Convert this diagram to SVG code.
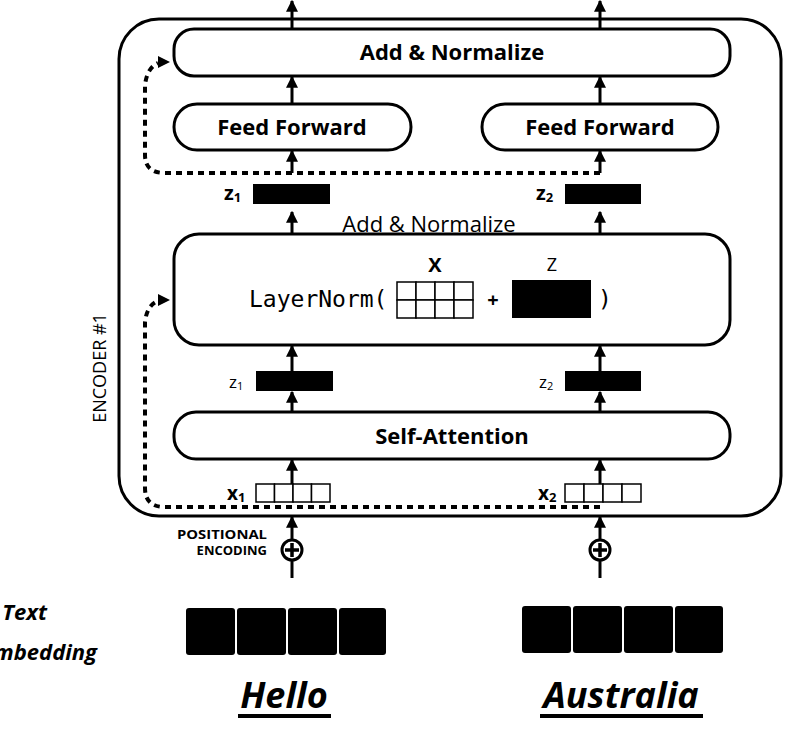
<svg xmlns="http://www.w3.org/2000/svg" width="798" height="740" viewBox="0 0 798 740">
<defs>
<style>
.box{fill:#fff;stroke:#000;stroke-width:3}
.b{font-family:"Open Sans","Liberation Sans",sans-serif;font-weight:bold;fill:#000}
.r{font-family:"Open Sans","Liberation Sans",sans-serif;fill:#000}
.m{font-family:"DejaVu Sans Mono","Liberation Mono",monospace;fill:#000}
.bi{font-family:"Open Sans","Liberation Sans",sans-serif;font-weight:bold;font-style:italic;fill:#000}
.arr{stroke:#000;stroke-width:3;fill:none;marker-end:url(#ah)}
.dash{stroke:#000;stroke-width:4;fill:none;stroke-dasharray:6 5}
.blk{fill:#000}
.cell{fill:#fff;stroke:#000;stroke-width:1.5}
</style>
<marker id="ah" viewBox="0 0 10 10" refX="9" refY="5" markerWidth="4" markerHeight="4" orient="auto" markerUnits="strokeWidth">
<path d="M0,0 L10,5 L0,10 z" fill="#000"/>
</marker>
</defs>
<rect width="798" height="740" fill="#fff"/>

<g id="encoder">
<rect class="box" x="119" y="19" width="662" height="497" rx="40"/>
<text class="r" font-size="18" transform="translate(106,368) rotate(-90)" text-anchor="middle">ENCODER #1</text>
</g>

<g id="connectors">
<line class="arr" x1="292" y1="29" x2="292" y2="1"/>
<line class="arr" x1="600" y1="29" x2="600" y2="1"/>
<line class="arr" x1="292" y1="104" x2="292" y2="77"/>
<line class="arr" x1="600" y1="104" x2="600" y2="77"/>
<line class="arr" x1="292" y1="173" x2="292" y2="151"/>
<line class="arr" x1="600" y1="173" x2="600" y2="151"/>
<line class="arr" x1="292" y1="234" x2="292" y2="212"/>
<line class="arr" x1="600" y1="234" x2="600" y2="212"/>
<line class="arr" x1="292" y1="371" x2="292" y2="346"/>
<line class="arr" x1="600" y1="371" x2="600" y2="346"/>
<line class="arr" x1="292" y1="412" x2="292" y2="392"/>
<line class="arr" x1="600" y1="412" x2="600" y2="392"/>
<line class="arr" x1="292" y1="484" x2="292" y2="460"/>
<line class="arr" x1="600" y1="484" x2="600" y2="460"/>
<line class="arr" x1="292" y1="540" x2="292" y2="517"/>
<line class="arr" x1="600" y1="540" x2="600" y2="517"/>
<line stroke="#000" stroke-width="3" x1="292" y1="560" x2="292" y2="578"/>
<line stroke="#000" stroke-width="3" x1="600" y1="560" x2="600" y2="578"/>
<path class="dash" d="M600,173 L165,173 Q145,173 145,155 L145,85 Q147,68 158,63"/>
<path d="M158,56 L170,62 L158,68 z" fill="#000"/>
<path class="dash" d="M600,507 L165,507 Q145,507 145,488 L145,322 Q147,305 158,301"/>
<path d="M158,294 L170,300 L158,306 z" fill="#000"/>
</g>

<g id="addnorm2">
<rect class="box" x="174" y="29" width="556" height="47" rx="20"/>
<text class="b" font-size="22" x="452" y="60" text-anchor="middle">Add &amp; Normalize</text>
</g>

<g id="ff1">
<rect class="box" x="174" y="104" width="237" height="46" rx="23"/>
<text class="b" font-size="22" x="292" y="135" text-anchor="middle">Feed Forward</text>
</g>
<g id="ff2">
<rect class="box" x="482" y="104" width="236" height="46" rx="23"/>
<text class="b" font-size="22" x="600" y="135" text-anchor="middle">Feed Forward</text>
</g>

<g id="z1top">
<text class="b" font-size="20" x="224" y="200">z<tspan font-size="13" dy="2">1</tspan></text>
<rect class="blk" x="253" y="184" width="77" height="20"/>
</g>
<g id="z2top">
<text class="b" font-size="20" x="536" y="200">z<tspan font-size="13" dy="2">2</tspan></text>
<rect class="blk" x="565" y="184" width="76" height="20"/>
</g>

<g id="addnorm1">
<text class="r" font-size="22" x="429" y="232" text-anchor="middle">Add &amp; Normalize</text>
<rect class="box" x="174" y="234" width="556" height="111" rx="25"/>
<text class="m" font-size="23" x="249" y="307">LayerNorm(</text>
<text class="b" font-size="20" x="435" y="272" text-anchor="middle">X</text>
<text class="r" font-size="18" x="552" y="271" text-anchor="middle">Z</text>
<rect class="cell" x="397" y="282" width="19" height="18"/>
<rect class="cell" x="416" y="282" width="19" height="18"/>
<rect class="cell" x="435" y="282" width="19" height="18"/>
<rect class="cell" x="454" y="282" width="19" height="18"/>
<rect class="cell" x="397" y="300" width="19" height="18"/>
<rect class="cell" x="416" y="300" width="19" height="18"/>
<rect class="cell" x="435" y="300" width="19" height="18"/>
<rect class="cell" x="454" y="300" width="19" height="18"/>
<text class="b" font-size="20" x="493" y="307" text-anchor="middle">+</text>
<rect class="blk" x="512" y="280" width="79" height="38"/>
<text class="m" font-size="23" x="605" y="307" text-anchor="middle">)</text>
</g>

<g id="z1mid">
<text class="r" font-size="17" x="229" y="388">z<tspan font-size="11" dy="2">1</tspan></text>
<rect class="blk" x="256" y="371" width="77" height="20"/>
</g>
<g id="z2mid">
<text class="r" font-size="17" x="539" y="388">z<tspan font-size="11" dy="2">2</tspan></text>
<rect class="blk" x="565" y="371" width="76" height="20"/>
</g>

<g id="selfattn">
<rect class="box" x="174" y="412" width="556" height="47" rx="22"/>
<text class="b" font-size="22" x="452" y="444" text-anchor="middle">Self-Attention</text>
</g>

<g id="x1">
<text class="b" font-size="19" x="227" y="500">x<tspan font-size="13" dy="2">1</tspan></text>
<rect class="cell" x="256" y="484" width="18.5" height="18"/>
<rect class="cell" x="274.5" y="484" width="18.5" height="18"/>
<rect class="cell" x="293" y="484" width="18.5" height="18"/>
<rect class="cell" x="311.5" y="484" width="18.5" height="18"/>
</g>
<g id="x2">
<text class="b" font-size="19" x="538" y="500">x<tspan font-size="13" dy="2">2</tspan></text>
<rect class="cell" x="565" y="484" width="19" height="18"/>
<rect class="cell" x="584" y="484" width="19" height="18"/>
<rect class="cell" x="603" y="484" width="19" height="18"/>
<rect class="cell" x="622" y="484" width="19" height="18"/>
</g>

<g id="pe1">
<text class="b" font-size="13" x="267" y="539" textLength="90" lengthAdjust="spacingAndGlyphs" text-anchor="end">POSITIONAL</text>
<text class="b" font-size="13" x="267" y="555" text-anchor="end">ENCODING</text>
<circle cx="292" cy="550" r="10" fill="#fff" stroke="#000" stroke-width="3"/>
<path d="M292,543 V557 M285,550 H299" stroke="#000" stroke-width="3.5"/>
</g>
<g id="pe2">
<circle cx="600" cy="550" r="10" fill="#fff" stroke="#000" stroke-width="3"/>
<path d="M600,543 V557 M593,550 H607" stroke="#000" stroke-width="3.5"/>
</g>

<g id="embLabel">
<text class="bi" font-size="22" x="47" y="620" text-anchor="end">Text</text>
<text class="bi" font-size="22" x="97" y="660" text-anchor="end">Embedding</text>
</g>

<g id="emb1">
<rect class="blk" x="186" y="608" width="49" height="47" rx="3"/>
<rect class="blk" x="237" y="608" width="49" height="47" rx="3"/>
<rect class="blk" x="288" y="608" width="49" height="47" rx="3"/>
<rect class="blk" x="339" y="608" width="47" height="47" rx="3"/>
<text class="bi" font-size="36" x="284" y="708" text-anchor="middle">Hello</text>
<rect class="blk" x="238" y="714" width="93" height="4"/>
</g>
<g id="emb2">
<rect class="blk" x="522" y="606" width="49" height="47" rx="3"/>
<rect class="blk" x="573" y="606" width="49" height="47" rx="3"/>
<rect class="blk" x="624" y="606" width="49" height="47" rx="3"/>
<rect class="blk" x="675" y="606" width="48" height="47" rx="3"/>
<text class="bi" font-size="36" x="621" y="708" text-anchor="middle">Australia</text>
<rect class="blk" x="540" y="714" width="163" height="4"/>
</g>
</svg>
